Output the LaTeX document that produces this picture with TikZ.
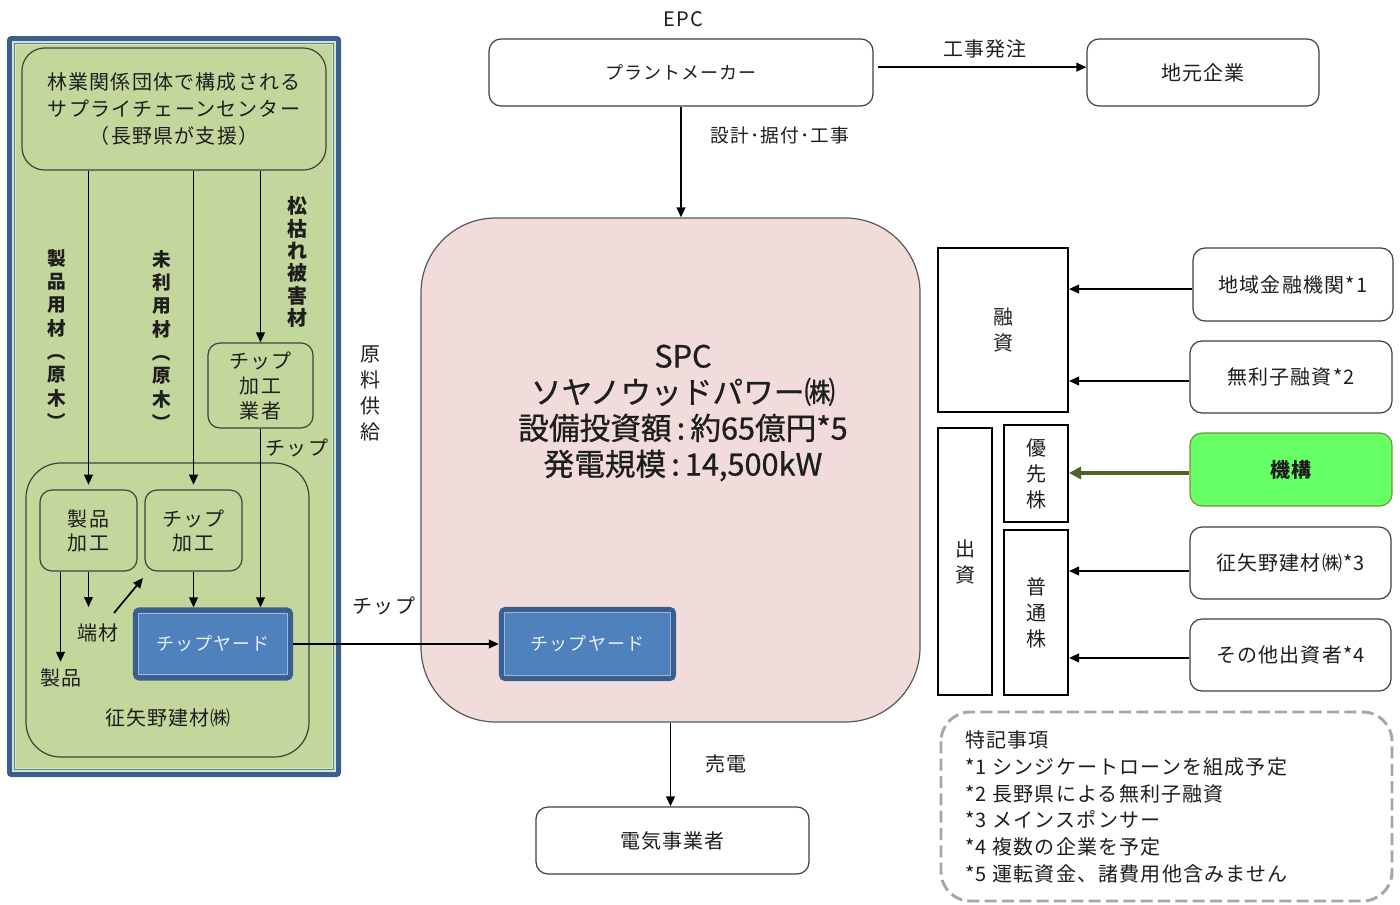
\documentclass[tikz,border=0pt]{standalone}
\usepackage{fontspec}
\usepackage{graphicx}
\setmainfont{Noto Sans CJK JP}
\newfontfamily\jp{Noto Sans CJK JP}[LetterSpace=6]
\newfontfamily\jpm{Noto Sans CJK JP}[FakeBold=0.8]
\usetikzlibrary{arrows.meta}
\definecolor{pgreen}{HTML}{C3D69B}
\definecolor{pband}{HTML}{D8E4BC}
\definecolor{bdark}{HTML}{3A5F8E}
\definecolor{bmid}{HTML}{4F81BD}
\definecolor{blight}{HTML}{9DB7DE}
\definecolor{spcpink}{HTML}{F2DCDB}
\definecolor{kgreen}{HTML}{66FF66}
\definecolor{kborder}{HTML}{77933C}
\definecolor{olive}{HTML}{4F6228}
\definecolor{dashgray}{HTML}{A6A6A6}
\definecolor{ink}{HTML}{1E1E1E}
\newdimen\pxu \pxu=0.75pt
\newcommand\fs[2]{\fontsize{#1}{#2}\selectfont}
\newcommand\vlp{\rotatebox[origin=c]{-90}{（}}
\newcommand\vrp{\rotatebox[origin=c]{-90}{）}}
\begin{document}
\begin{tikzpicture}[x=0.75pt,y=-0.75pt,
  txt/.style={inner sep=0pt, align=center, text=ink, font=\jp\fs{15}{20}},
  box/.style={txt, draw=black!75, line width=0.9pt, rounded corners=9pt, fill=white},
  sq/.style={txt, draw=black, line width=1.5pt, fill=white, font=\jp\fs{15}{19.5}},
  yard/.style={txt, draw=bdark, line width=4pt, fill=bmid, rounded corners=3pt, text=white!88!bmid, font=\jp\fs{13.5}{16}},
  arr/.style={draw=black, line width=1.3pt, -{Triangle[length=7.5pt,width=6.5pt]}},
]
\useasboundingbox (0,0) rectangle (1400,904);
\fill[white] (0,0) rectangle (1400,904);

% ---------- left panel ----------
\fill[bdark, rounded corners=3pt] (7,36) rectangle (341,777);
\fill[pband] (12,41) rectangle (336,772);
\draw[bmid, line width=1pt] (14.5,43.5) rectangle (333.5,769.5);
\fill[pgreen] (16,45) rectangle (332,768);

\node[box, fill=pgreen, minimum width=304*\pxu, minimum height=122*\pxu, rounded corners=17pt] (sc) at (174,109) {林業関係団体で構成される\\サプライチェーンセンター\\（長野県が支援）};

\node[txt, font=\jp\bfseries\fs{14}{17.5}] (v1) at (57,340) {製\\品\\用\\材\\\vlp\\原\\木\\\vrp};
\node[txt, font=\jp\bfseries\fs{14}{17.5}] (v2) at (162,341) {未\\利\\用\\材\\\vlp\\原\\木\\\vrp};
\node[txt, font=\jp\bfseries\fs{15}{16.8}] (v3) at (297,262) {松\\枯\\れ\\被\\害\\材};

\node[box, fill=pgreen, minimum width=105*\pxu, minimum height=85*\pxu, font=\jp\fs{15}{18.75}] (gyo) at (260.5,385.5) {チップ\\加工\\業者};
\node[txt] (chip1) at (297,448) {チップ};

\node[box, fill=pgreen, minimum width=283*\pxu, minimum height=294*\pxu, rounded corners=26pt] (soya) at (167.5,610) {};
\node[txt] (soyalbl) at (168,718) {征矢野建材㈱};
\node[box, fill=pgreen, minimum width=97*\pxu, minimum height=81*\pxu, font=\jp\fs{15}{18}] (sei) at (88.5,530.5) {製品\\加工};
\node[box, fill=pgreen, minimum width=97*\pxu, minimum height=81*\pxu, font=\jp\fs{15}{18}] (chk) at (193.5,530.5) {チップ\\加工};
\node[yard, minimum width=155*\pxu, minimum height=68*\pxu] (yard1) at (213,644) {チップヤード};
\draw[blight, line width=0.6pt] ([shift={(4.5pt,-4.5pt)}]yard1.north west) rectangle ([shift={(-4.5pt,4.5pt)}]yard1.south east);

\node[txt] (hazai) at (98,633) {端材};
\node[txt] (prod) at (61,678) {製品};
\coordinate (d1) at (114,613);
\coordinate (d2) at (143,578);
\coordinate (e1) at (88,607);
\coordinate (s1) at ([xshift=-21pt]sei.south);

\draw[arr, shorten >=3.5pt] (sc.south -| sei.north) -- (sei.north);
\draw[arr, shorten >=3.5pt] (sc.south -| chk.north) -- (chk.north);
\draw[arr] (sc.south -| gyo.north) -- (gyo.north);
\draw[arr] (gyo.south) -- (gyo.south |- yard1.north);
\draw[arr] (chk.south) -- (chk.south |- yard1.north);
\draw[arr] (sei.south) -- (sei.south |- e1);
\draw[arr, shorten >=5pt] (s1) -- (s1 |- prod.north);
\draw[arr] (d1) -- (d2);

% ---------- centre ----------
\node[txt, font=\jp\fs{15}{19.5}] (genryo) at (370,393) {原\\料\\供\\給};
\node[txt] (chip2) at (384,606) {チップ};

\node[box, fill=spcpink, draw=black!65, minimum width=499*\pxu, minimum height=504*\pxu, rounded corners=56pt] (spc) at (670.5,470) {};
\node[txt, font=\jpm\fs{23}{27}] (spct) at (683,413) {SPC\\ソヤノウッドパワー㈱\\設備投資額\,:\,約65億円*5\\発電規模\,:\,14,500kW};
\node[yard, minimum width=172*\pxu, minimum height=69*\pxu] (yard2) at (587.5,644) {チップヤード};
\draw[blight, line width=0.6pt] ([shift={(4.5pt,-4.5pt)}]yard2.north west) rectangle ([shift={(-4.5pt,4.5pt)}]yard2.south east);
\draw[arr] (yard1.east) -- (yard2.west);

% ---------- top ----------
\node[txt] (epc) at (683,19) {EPC};
\node[box, minimum width=384*\pxu, minimum height=67*\pxu, font=\jp\fs{13.5}{16}] (plant) at (681,72.5) {プラントメーカー};
\node[box, minimum width=232*\pxu, minimum height=67*\pxu] (jimoto) at (1203,72.5) {地元企業};
\node[txt] (koji) at (985,49) {工事発注};
\draw[arr, shorten <=3pt] ([yshift=4pt]plant.east) -- ([yshift=4pt]jimoto.west);
\node[txt, font=\jp\fs{14}{16}] (sekkei) at (780,135) {設計･据付･工事};
\draw[arr] (plant.south) -- (plant.south |- spc.north);

% ---------- bottom ----------
\node[box, minimum width=273*\pxu, minimum height=67*\pxu] (denki) at (672.5,840.5) {電気事業者};
\node[txt] (baiden) at (726,764) {売電};
\draw[arr] (spc.south) -- (spc.south |- denki.north);

% ---------- right ----------
\node[sq, minimum width=130*\pxu, minimum height=164*\pxu] (yushi) at (1003,330) {融\\資};
\node[sq, minimum width=54*\pxu, minimum height=267*\pxu] (shusshi) at (965,561.5) {出\\資};
\node[sq, minimum width=64*\pxu, minimum height=97*\pxu] (yusen) at (1036,473.5) {優\\先\\株};
\node[sq, minimum width=64*\pxu, minimum height=165*\pxu] (futsu) at (1036,612.5) {普\\通\\株};

\node[box, minimum width=200*\pxu, minimum height=73*\pxu] (chiiki) at (1293,284.5) {地域金融機関*1};
\node[box, minimum width=202*\pxu, minimum height=72*\pxu] (murishi) at (1291,377) {無利子融資*2};
\node[box, fill=kgreen, draw=kborder, minimum width=202*\pxu, minimum height=73*\pxu, font=\jp\bfseries\fs{15}{18}] (kikou) at (1291,469.5) {機構};
\node[box, minimum width=201*\pxu, minimum height=72*\pxu] (soya3) at (1290.5,563) {征矢野建材㈱*3};
\node[box, minimum width=201*\pxu, minimum height=72*\pxu] (sonota) at (1290.5,655) {その他出資者*4};

\coordinate (a1) at ([yshift=-3.4pt]chiiki.west);
\coordinate (a2) at ([yshift=-3pt]murishi.west);
\coordinate (a3) at ([yshift=-2.6pt]kikou.west);
\coordinate (a4) at ([yshift=-6pt]soya3.west);
\coordinate (a5) at ([yshift=-2.2pt]sonota.west);
\draw[arr] (a1) -- (yushi.east |- a1);
\draw[arr] (a2) -- (yushi.east |- a2);
\draw[draw=olive, line width=3pt, -{Triangle[length=9pt,width=9pt]}] (a3) -- (yusen.east |- a3);
\draw[arr] (a4) -- (futsu.east |- a4);
\draw[arr] (a5) -- (futsu.east |- a5);

% ---------- notes ----------
\draw[dashgray, line width=2.2pt, dash pattern=on 9pt off 4pt, rounded corners=22pt] (941,712) rectangle (1392,901);
\node[txt, align=left, anchor=west, font=\jp\fs{15}{20.1}] (notes) at (965,807) {特記事項\\*1 シンジケートローンを組成予定\\*2 長野県による無利子融資\\*3 メインスポンサー\\*4 複数の企業を予定\\*5 運転資金、諸費用他含みません};
\end{tikzpicture}
\end{document}
